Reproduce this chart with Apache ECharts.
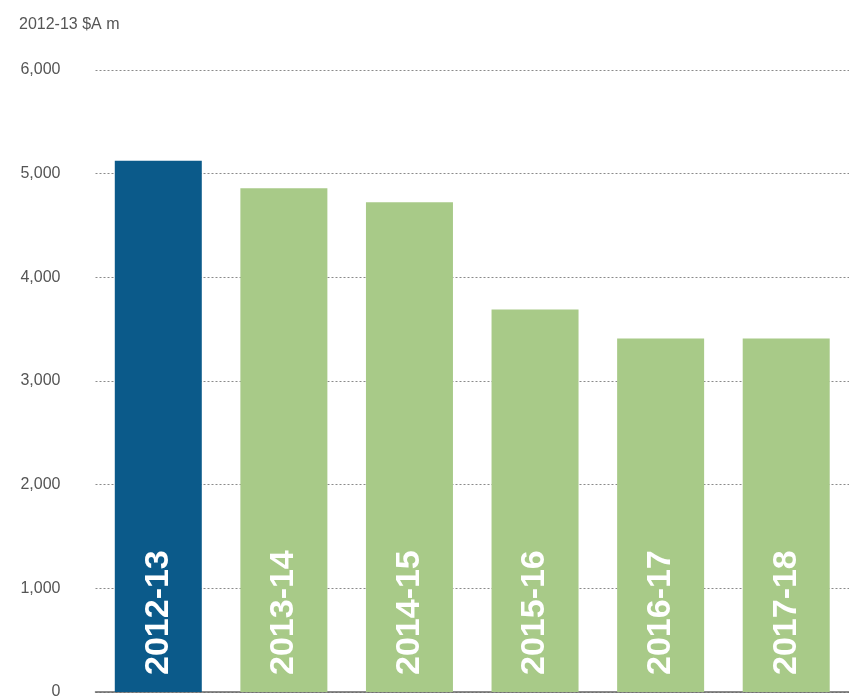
<!DOCTYPE html>
<html>
<head>
<meta charset="utf-8">
<script src="https://cdn.jsdelivr.net/npm/echarts@6/dist/echarts.min.js"></script>
<style>
html,body{margin:0;padding:0;background:#fff;}
#chart{width:849px;height:700px;}
</style>
</head>
<body>
<div id="chart"></div>
<script>
const categories = ['2012-13', '2013-14', '2014-15', '2015-16', '2016-17', '2017-18'];
const values = [5125, 4860, 4725, 3690, 3410, 3410];
const barColors = ['#0b5a8a', '#a8ca88', '#a8ca88', '#a8ca88', '#a8ca88', '#a8ca88'];
const unitLabel = '2012-13 $A m';

const chart = echarts.init(document.getElementById('chart'), null, {renderer: 'canvas'});
chart.setOption({
  animation: false,
  backgroundColor: '#ffffff',
  title: {
    text: unitLabel,
    left: 14,
    top: 12,
    textStyle: {fontFamily: 'Liberation Sans', fontSize: 16, fontWeight: 'normal', color: '#555555'}
  },
  grid: {left: 95.5, top: 70, width: 756, bottom: 5, containLabel: false},
  xAxis: {
    type: 'category',
    data: categories,
    axisLine: {show: true, lineStyle: {color: '#666666', width: 1.5}},
    axisTick: {show: false},
    axisLabel: {show: false},
    splitLine: {show: false}
  },
  yAxis: {
    type: 'value',
    min: 0,
    max: 6000,
    interval: 1000,
    axisLine: {show: false},
    axisTick: {show: false},
    axisLabel: {
      margin: 35,
      fontFamily: 'Liberation Sans',
      fontSize: 16,
      color: '#555555',
      formatter: v => v.toLocaleString('en-US')
    },
    splitLine: {show: true, lineStyle: {color: '#8a8a8a', type: [2, 2], width: 1}}
  },
  series: [{
    type: 'bar',
    barWidth: 87,
    data: values.map((v, i) => ({value: v, itemStyle: {color: barColors[i]}})),
    label: {
      show: true,
      position: 'insideBottom',
      rotate: 90,
      align: 'left',
      verticalAlign: 'middle',
      distance: 17,
      formatter: p => p.name,
      fontFamily: 'Liberation Sans',
      fontWeight: 'bold',
      fontSize: 34,
      color: '#ffffff'
    }
  }]
});
</script>
</body>
</html>
